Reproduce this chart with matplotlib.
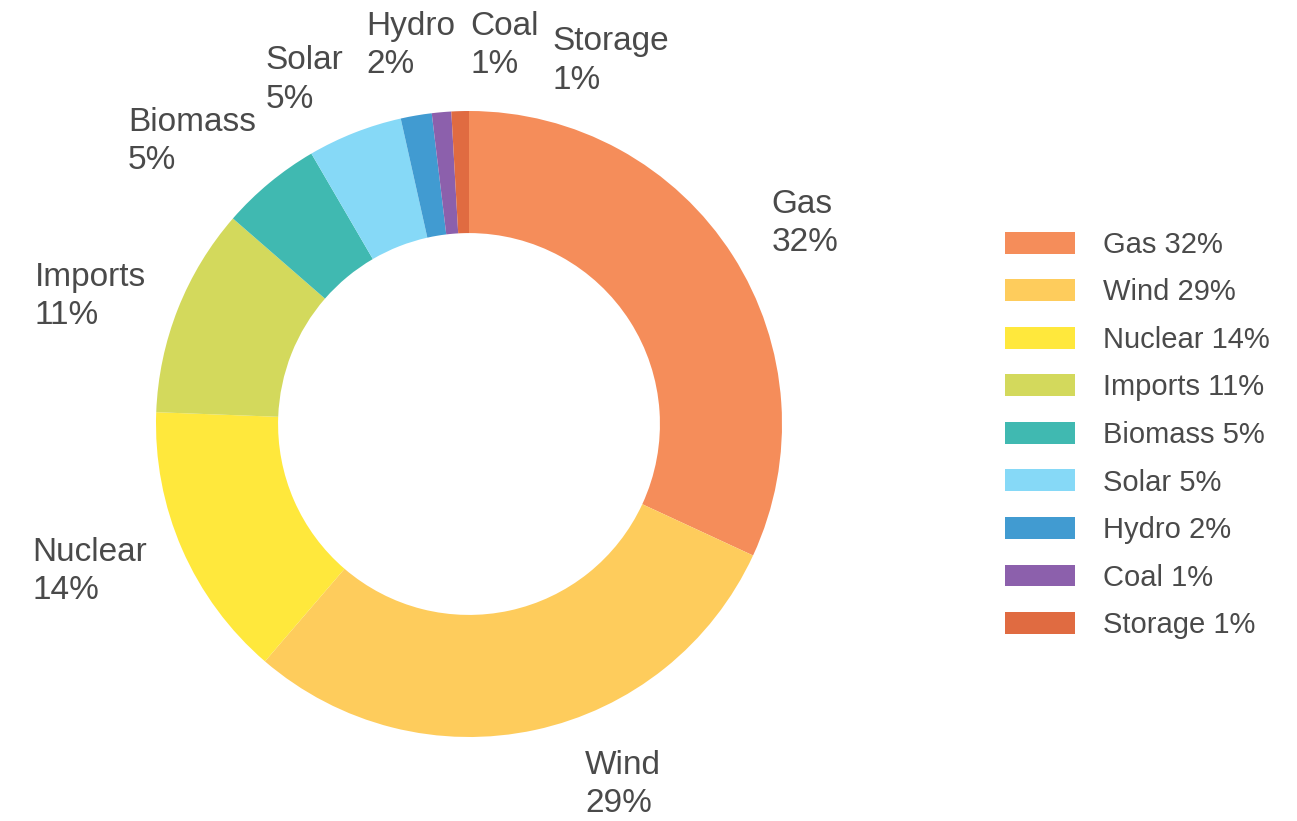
import matplotlib
matplotlib.use("Agg")
import matplotlib.pyplot as plt
import numpy as np

plt.rcParams['font.family'] = ['Liberation Sans', 'DejaVu Sans']

# data
sources = ["Gas", "Wind", "Nuclear", "Imports", "Biomass", "Solar", "Hydro", "Coal", "Storage"]
shares = [31.9, 29.4, 14.3, 10.8, 5.2, 4.9, 1.6, 1.0, 0.9]
pct_labels = ["32%", "29%", "14%", "11%", "5%", "5%", "2%", "1%", "1%"]
colors = ["#F58D5A", "#FECC5C", "#FFE83C", "#D3D95C", "#40B9B1",
          "#86D9F7", "#419BD1", "#8C60AC", "#E06B41"]

# label placement tweaks (degrees shift from slice middle, radius in units of outer radius)
label_shift = [-1, -5.6, -1, 0, 2.6, 1.4, 7.6, 5.3, 14.6]
label_r = [1.16, 1.21, 1.13, 1.11, 1.13, 1.17, 1.21, 1.21, 1.19]
txt_col = "#4a4a4a"

W, H = 1297, 821
fig = plt.figure(figsize=(W / 100, H / 100), dpi=100)
ax = fig.add_axes([0, 0, 1, 1])

cx, cy, R = 469, 424, 313
wedges, _ = ax.pie(shares, colors=colors, startangle=90, counterclock=False,
                   radius=1, wedgeprops=dict(width=0.39, edgecolor='none'))
ax.set_xlim(-cx / R, (W - cx) / R)
ax.set_ylim(-(H - cy) / R, cy / R)
ax.set_aspect('auto')
ax.axis('off')

# outside labels
cum = np.cumsum([0] + shares[:-1])
for i, name in enumerate(sources):
    mid = (cum[i] + shares[i] / 2) / sum(shares) * 360 + label_shift[i]
    th = np.radians(mid)
    x, y = label_r[i] * np.sin(th), label_r[i] * np.cos(th)
    ha = 'left' if np.sin(th) >= -0.001 else 'right'
    ax.text(x, y, name + "\n" + pct_labels[i], ha=ha, va='center',
            multialignment='left', fontsize=24, color=txt_col, linespacing=1.3)

# legend
leg = ax.legend(wedges, [s + " " + p for s, p in zip(sources, pct_labels)],
                loc='center left', bbox_to_anchor=(1005 / W, 1 - 435 / H),
                frameon=False, fontsize=21, handlelength=2.4, handleheight=0.78,
                handletextpad=0.96, labelspacing=0.67, borderaxespad=0, borderpad=0)
for t in leg.get_texts():
    t.set_color(txt_col)

fig.savefig("out.png", dpi=100)
